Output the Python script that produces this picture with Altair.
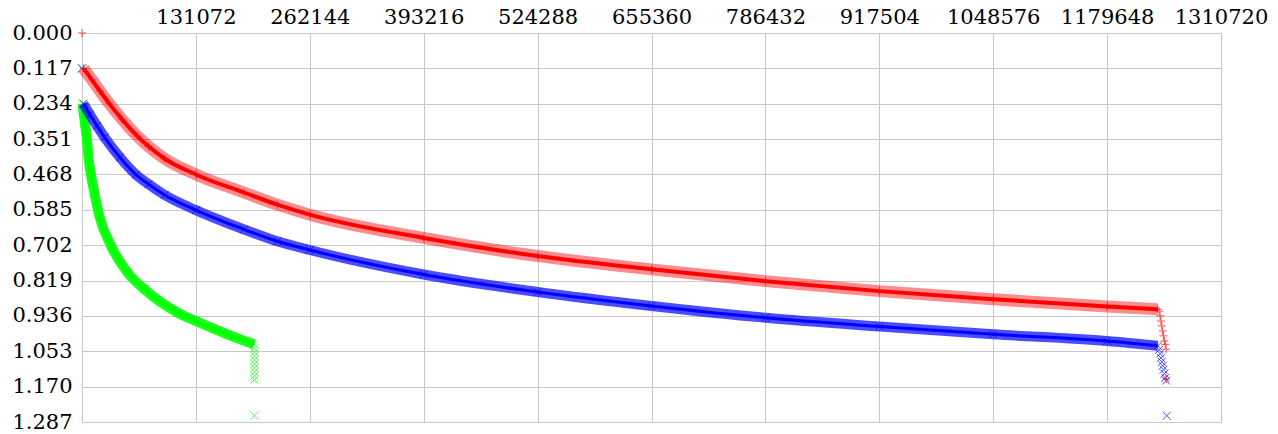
import altair as alt
import pandas as pd

# Axis ticks
x_ticks = [131072 * k for k in range(1, 11)]
y_ticks = [round(0.117 * k, 3) for k in range(12)]

# Red series ("+" markers)
red_x = [1720, 11470, 20640, 30960, 45870, 63640, 76490, 95180, 131072, 186600,
         224800, 262144, 393216, 524288, 655360, 786432, 917504, 1048576, 1179648, 1238000]
red_y = [0.117, 0.155, 0.192, 0.232, 0.285, 0.341, 0.375, 0.416, 0.468, 0.528,
         0.568, 0.601, 0.678, 0.738, 0.782, 0.821, 0.854, 0.881, 0.905, 0.914]
red_tail_x = [0, 1239600, 1240600, 1241600, 1242600, 1243600, 1244600, 1245600,
              1246600, 1247600, 1247600]
red_tail_y = [0.000, 0.920, 0.936, 0.953, 0.969, 0.986, 1.002, 1.019, 1.030, 1.046, 1.145]

# Blue series ("x" markers)
blue_x = [1720, 9170, 17200, 26030, 43570, 62260, 76490, 95180, 131072, 186600,
          224800, 262144, 393216, 524288, 655360, 786432, 917504, 1048576, 1179648, 1238000]
blue_y = [0.234, 0.270, 0.307, 0.345, 0.411, 0.469, 0.500, 0.536, 0.586, 0.650,
          0.689, 0.718, 0.799, 0.857, 0.903, 0.942, 0.971, 0.997, 1.019, 1.035]
blue_tail_x = [0, 1239600, 1240600, 1241600, 1242600, 1243600, 1244600, 1245600,
               1246600, 1247600, 1248400]
blue_tail_y = [0.117, 1.048, 1.061, 1.075, 1.088, 1.101, 1.114, 1.127, 1.141, 1.150, 1.266]

# Green series ("x" markers)
green_x = [600, 3440, 5700, 7450, 10300, 13760, 20070, 33600, 52700, 71900, 110100,
           131072, 167400, 198000]
green_y = [0.234, 0.300, 0.351, 0.410, 0.468, 0.520, 0.606, 0.705, 0.793, 0.848, 0.925,
           0.953, 0.997, 1.030]
green_tail_x = [0, 198400, 198400, 198400, 198400, 198400, 198400, 198400, 198400,
                198400, 198400]
green_tail_y = [0.117, 1.043, 1.056, 1.069, 1.082, 1.095, 1.108, 1.121, 1.134, 1.147, 1.266]

PLUS = "M-1,0L1,0M0,-1L0,1"
CROSS = "M-1,-1L1,1M-1,1L1,-1"
LABEL_FONT = "DejaVu Serif"
LABEL_SIZE = 21

x_enc = alt.X(
    "x:Q",
    scale=alt.Scale(domain=[0, 1310720], nice=False, zero=False),
    axis=alt.Axis(orient="top", values=x_ticks, format="d", title=None,
                  labelFont=LABEL_FONT, labelFontSize=LABEL_SIZE, labelColor="black",
                  labelPadding=6, labelFlush=False, labelOverlap=False,
                  ticks=False, domain=False, grid=True, gridColor="#c8c8c8",
                  gridWidth=1),
)
y_enc = alt.Y(
    "y:Q",
    scale=alt.Scale(domain=[0, 1.287], reverse=True, nice=False, zero=False),
    axis=alt.Axis(values=y_ticks, format=".3f", title=None,
                  labelFont=LABEL_FONT, labelFontSize=LABEL_SIZE, labelColor="black",
                  labelPadding=10, labelOverlap=False,
                  ticks=False, domain=False, grid=True, gridColor="#c8c8c8",
                  gridWidth=1),
)


def series_layers(xs, ys, tail_x, tail_y, color, shape, band_w, band_op, core_w):
    curve = pd.DataFrame({"x": xs, "y": ys})
    pts = pd.DataFrame({"x": xs + tail_x, "y": ys + tail_y})
    band = alt.Chart(curve).mark_line(
        color=color, strokeWidth=band_w, opacity=band_op, interpolate="monotone"
    ).encode(x=x_enc, y=y_enc)
    core = alt.Chart(curve).mark_line(
        color=color, strokeWidth=core_w, opacity=1, interpolate="monotone"
    ).encode(x=x_enc, y=y_enc)
    marks = alt.Chart(pts).mark_point(
        shape=shape, filled=False, size=64, strokeWidth=1, color=color, opacity=0.7
    ).encode(x=x_enc, y=y_enc)
    return [band, core, marks]


layers = (
    series_layers(green_x, green_y, green_tail_x, green_tail_y, "#00ff00", CROSS, 10, 0.9, 4)
    + series_layers(blue_x, blue_y, blue_tail_x, blue_tail_y, "#0000ff", CROSS, 10, 0.7, 3)
    + series_layers(red_x, red_y, red_tail_x, red_tail_y, "#ff0000", PLUS, 12, 0.45, 4)
)

chart = alt.layer(*layers).properties(
    width=1139, height=389,
    autosize=alt.AutoSizeParams(type="none"),
    padding={"left": 82, "top": 33, "right": 57, "bottom": 12},
    background="white",
).configure_view(stroke="#c8c8c8", strokeWidth=1)

chart.save("out.html", embed_options={"renderer": "svg", "actions": False})
